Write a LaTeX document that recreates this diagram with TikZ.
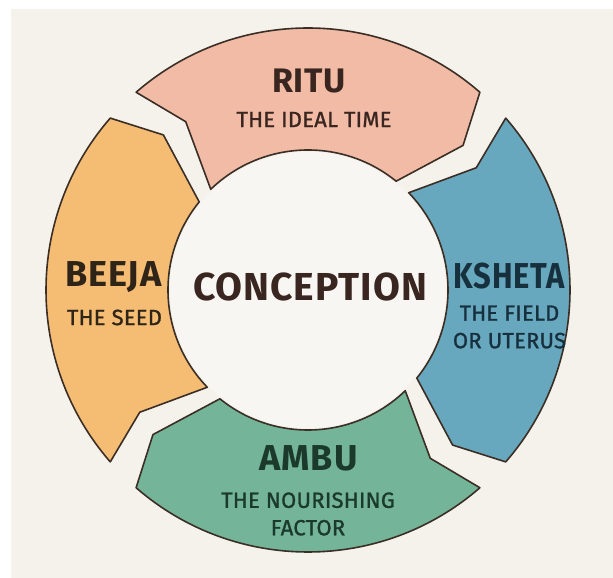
\documentclass[tikz,border=0pt]{standalone}
\usepackage{fontspec}
\setmainfont{Fira Sans}
\newfontfamily\headfont[LetterSpace=2.5]{Fira Sans}
\newfontfamily\subfont[FakeBold=1.2, LetterSpace=1]{Fira Sans}
\usepackage{tikz}

\definecolor{bgcol}{HTML}{F5F2EC}
\definecolor{midcol}{HTML}{F8F6F2}
\definecolor{edge}{HTML}{3B2E25}
\definecolor{ritu}{HTML}{F2BBA6}
\definecolor{beeja}{HTML}{F5BD74}
\definecolor{ksheta}{HTML}{68A8BE}
\definecolor{ambu}{HTML}{74B59A}
\definecolor{ritutxt}{HTML}{3A2620}
\definecolor{beejatxt}{HTML}{2E2418}
\definecolor{kshetatxt}{HTML}{17303E}
\definecolor{ambutxt}{HTML}{1B3A2B}

\begin{document}
\begin{tikzpicture}[x=1pt, y=1pt,
    seg/.style={draw=edge, line width=1.6pt, line join=round},
    title/.style={font=\headfont\bfseries\fontsize{#1}{#1}\selectfont},
    title/.default=34,
    sub/.style={font=\subfont\fontsize{22}{27.5}\selectfont, align=center}]
    \useasboundingbox (0, 0) rectangle (613, 578);
    \fill[bgcol] (11, 0) rectangle (613, 569);

    \node (mid) [circle, fill=midcol, minimum size=276pt, inner sep=0pt] at (308, 288) {};

    % ring of four arrows, running clockwise
    \begin{scope}[shift={(308, 288)}]
        \foreach \ang/\col in {90/ritu, 0/ksheta, -90/ambu, 180/beeja} {
            \filldraw[seg, fill=\col] (\ang+41:262)
                arc[start angle=\ang+41, end angle=\ang-41, radius=262]
                -- (\ang-47:212) -- (\ang-39:140)
                arc[start angle=\ang-39, end angle=\ang+44, radius=140]
                -- (\ang+36:208) -- cycle;
        }
    \end{scope}

    \node (conception) [title=39, text=ritutxt] at (310, 291.5) {CONCEPTION};

    \node (ritu) [title=34, text=ritutxt] at (309, 496.5) {RITU};
    \node (ritusub) [sub, text=ritutxt] at (314, 458.5) {THE IDEAL TIME};

    \node (beeja) [title=36, text=beejatxt] at (113.5, 300.5) {BEEJA};
    \node (beejasub) [sub, text=beejatxt] at (114.5, 260.5) {THE SEED};

    \node (ksheta) [title=36, text=kshetatxt, xscale=0.86, transform shape] at (509.5, 301.5) {KSHETA};
    \node (kshetasub) [sub, text=kshetatxt] at (509.5, 251) {THE FIELD\\OR UTERUS};

    \node (ambu) [title=36, text=ambutxt] at (308.5, 119.5) {AMBU};
    \node (ambusub) [sub, text=ambutxt] at (308, 64) {THE NOURISHING\\FACTOR};
\end{tikzpicture}
\end{document}
